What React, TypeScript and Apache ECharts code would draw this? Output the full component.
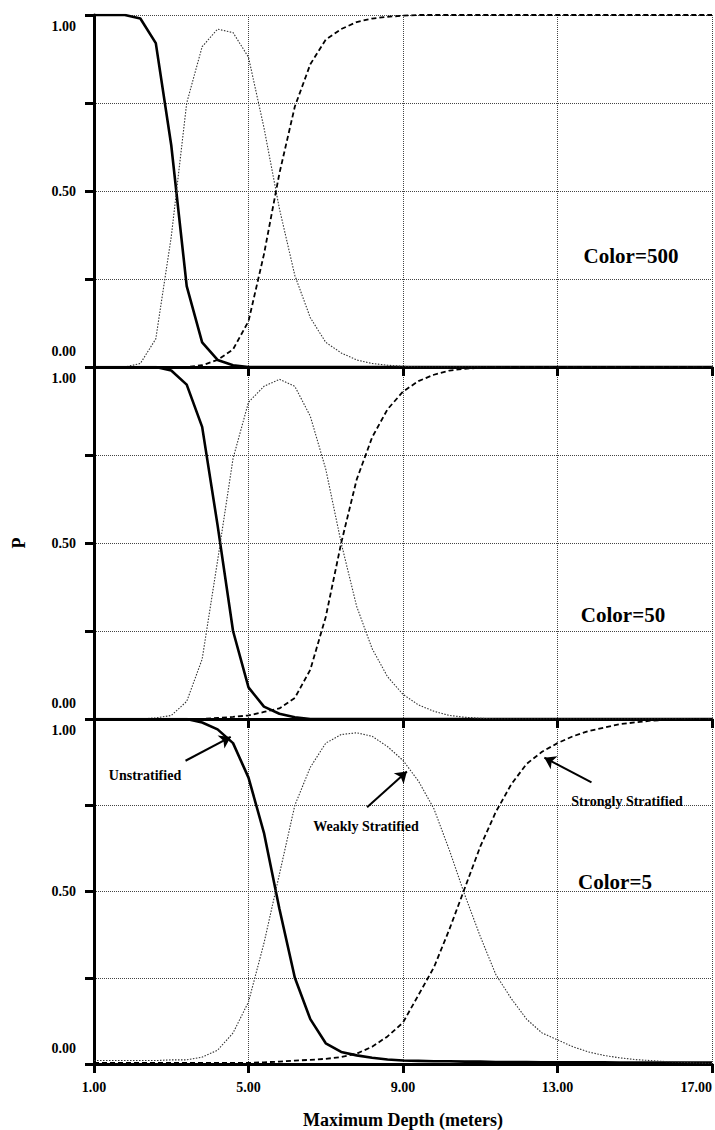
import React, { useEffect, useRef } from "react";
import * as echarts from "echarts";

// Maximum depth (meters) at which probabilities were evaluated
const depth = [1.0, 1.4, 1.8, 2.2, 2.6, 3.0, 3.4, 3.8, 4.2, 4.6, 5.0, 5.4, 5.8, 6.2, 6.6, 7.0, 7.4, 7.8, 8.2, 8.6, 9.0, 9.4, 9.8, 10.2, 10.6, 11.0, 11.4, 11.8, 12.2, 12.6, 13.0, 13.4, 13.8, 14.2, 14.6, 15.0, 15.4, 15.8, 16.2, 16.6, 17.0];

// Color = 500
const unstrat500 = [1, 1, 1, 0.99, 0.92, 0.63, 0.23, 0.07, 0.02, 0.005, 0, 0, 0, 0, 0, 0, 0, 0, 0, 0, 0, 0, 0, 0, 0, 0, 0, 0, 0, 0, 0, 0, 0, 0, 0, 0, 0, 0, 0, 0, 0];
const weakly500 = [0, 0, 0, 0.01, 0.08, 0.37, 0.75, 0.91, 0.96, 0.95, 0.88, 0.68, 0.45, 0.26, 0.14, 0.07, 0.04, 0.02, 0.01, 0.005, 0.002, 0, 0, 0, 0, 0, 0, 0, 0, 0, 0, 0, 0, 0, 0, 0, 0, 0, 0, 0, 0];
const strong500 = [0, 0, 0, 0, 0, 0, 0, 0.005, 0.02, 0.05, 0.13, 0.32, 0.55, 0.74, 0.86, 0.93, 0.96, 0.98, 0.99, 0.995, 0.998, 1, 1, 1, 1, 1, 1, 1, 1, 1, 1, 1, 1, 1, 1, 1, 1, 1, 1, 1, 1];

// Color = 50
const unstrat50 = [1, 1, 1, 1, 1, 0.99, 0.95, 0.83, 0.55, 0.25, 0.09, 0.035, 0.015, 0.005, 0, 0, 0, 0, 0, 0, 0, 0, 0, 0, 0, 0, 0, 0, 0, 0, 0, 0, 0, 0, 0, 0, 0, 0, 0, 0, 0];
const weakly50 = [0, 0, 0, 0, 0.003, 0.01, 0.05, 0.17, 0.45, 0.74, 0.9, 0.945, 0.965, 0.945, 0.86, 0.71, 0.5, 0.32, 0.2, 0.12, 0.07, 0.04, 0.022, 0.01, 0.005, 0.002, 0, 0, 0, 0, 0, 0, 0, 0, 0, 0, 0, 0, 0, 0, 0];
const strong50 = [0, 0, 0, 0, 0, 0, 0, 0, 0.003, 0.006, 0.01, 0.02, 0.03, 0.06, 0.14, 0.29, 0.5, 0.68, 0.8, 0.88, 0.93, 0.96, 0.978, 0.99, 0.995, 0.998, 1, 1, 1, 1, 1, 1, 1, 1, 1, 1, 1, 1, 1, 1, 1];

// Color = 5
const unstrat5 = [1, 1, 1, 1, 1, 1, 1, 0.99, 0.97, 0.93, 0.83, 0.67, 0.45, 0.25, 0.13, 0.06, 0.035, 0.025, 0.018, 0.013, 0.01, 0.009, 0.008, 0.008, 0.007, 0.007, 0.006, 0.006, 0.006, 0.005, 0.005, 0.005, 0.005, 0.005, 0.004, 0.004, 0.004, 0.004, 0.004, 0.004, 0.004];
const weakly5 = [0.01, 0.01, 0.01, 0.01, 0.01, 0.012, 0.012, 0.02, 0.04, 0.09, 0.18, 0.35, 0.55, 0.75, 0.86, 0.93, 0.955, 0.96, 0.95, 0.92, 0.88, 0.82, 0.74, 0.62, 0.49, 0.37, 0.26, 0.19, 0.13, 0.09, 0.07, 0.05, 0.035, 0.025, 0.018, 0.013, 0.01, 0.007, 0.005, 0.003, 0.002];
const strong5 = [0.003, 0.003, 0.003, 0.003, 0.003, 0.003, 0.003, 0.003, 0.003, 0.003, 0.003, 0.005, 0.007, 0.01, 0.012, 0.015, 0.02, 0.03, 0.05, 0.08, 0.12, 0.2, 0.28, 0.39, 0.51, 0.63, 0.73, 0.81, 0.87, 0.905, 0.93, 0.95, 0.965, 0.975, 0.985, 0.99, 0.995, 0.997, 0.998, 0.999, 1.0];

const panelLabels = ["Color=500", "Color=50", "Color=5"];
const classNames = ["Unstratified", "Weakly Stratified", "Strongly Stratified"];

// arrows in the Color=5 panel: [tail, tip] in data coordinates
const arrowUnstrat = [[3.37, 0.879], [4.54, 0.948]];
const arrowWeakly = [[8.07, 0.744], [9.1, 0.848]];
const arrowStrong = [[13.88, 0.816], [12.66, 0.888]];

const FONT = '"Liberation Serif", "Times New Roman", serif';

export default function App() {
  const ref = useRef<HTMLDivElement>(null);
  useEffect(() => {
    const chart = echarts.init(ref.current!, null, { renderer: "svg" });
    const panels = [
      [unstrat500, weakly500, strong500],
      [unstrat50, weakly50, strong50],
      [unstrat5, weakly5, strong5],
    ];
    const gridTops = [15, 367, 719];
    const gridHeights = [352, 352, 348];
    const grids = gridTops.map((t, i) => ({ left: 94, width: 618, top: t, height: gridHeights[i] }));
    const splitStyle = { show: true, lineStyle: { type: "dotted" as const, color: "#444", width: 1 } };
    const xAxes = grids.map((_, i) => ({
      type: "value",
      gridIndex: i,
      min: 1,
      max: 17,
      interval: 4,
      axisLine: { show: true, onZero: false, lineStyle: { color: "#000", width: 3 } },
      axisTick: { show: true, length: 9, lineStyle: { color: "#000", width: 3 } },
      axisLabel: {
        show: i === 2,
        formatter: (v: number) => v.toFixed(2),
        fontFamily: FONT,
        fontWeight: "bold",
        fontSize: 14,
        color: "#000",
        margin: 16,
        alignMaxLabel: "right",
      },
      splitLine: splitStyle,
      name: i === 2 ? "Maximum Depth (meters)" : "",
      nameLocation: "middle",
      nameGap: 47,
      nameTextStyle: { fontFamily: FONT, fontWeight: "bold", fontSize: 18, color: "#000" },
    }));
    const yAxes = grids.map((_, i) => ({
      type: "value",
      gridIndex: i,
      min: 0,
      max: 1,
      interval: 0.25,
      axisLine: { show: true, lineStyle: { color: "#000", width: 3 } },
      axisTick: { show: true, length: 9, lineStyle: { color: "#000", width: 3 } },
      axisLabel: {
        margin: 18,
        color: "#000",
        formatter: (v: number) => {
          if (v === 1) return "{t|1.00}";
          if (v === 0) return "{b|0.00}";
          if (v === 0.5) return "{m|0.50}";
          return "";
        },
        rich: {
          t: { fontFamily: FONT, fontWeight: "bold", fontSize: 14, color: "#000", padding: [22, 0, 0, 0] },
          b: { fontFamily: FONT, fontWeight: "bold", fontSize: 14, color: "#000", padding: [0, 0, 32, 0] },
          m: { fontFamily: FONT, fontWeight: "bold", fontSize: 14, color: "#000" },
        },
      },
      splitLine: splitStyle,
      name: i === 1 ? "P" : "",
      nameLocation: "middle",
      nameGap: 66,
      nameTextStyle: { fontFamily: FONT, fontWeight: "bold", fontSize: 18, color: "#000" },
    }));
    const lineStyles = [
      { color: "#000", width: 2.6, type: "solid" },
      { color: "#333", width: 1.1, type: [1.5, 1.5] },
      { color: "#000", width: 1.8, type: [5, 3] },
    ];
    const series: any[] = [];
    panels.forEach((arrs, gi) => {
      arrs.forEach((arr, si) => {
        const s: any = {
          type: "line",
          name: classNames[si],
          xAxisIndex: gi,
          yAxisIndex: gi,
          data: depth.map((d, k) => [d, arr[k]]),
          showSymbol: false,
          symbol: "none",
          lineStyle: lineStyles[si],
          z: 3,
        };
        if (gi === 2 && si === 0) {
          s.markLine = {
            silent: true,
            symbol: ["none", "arrow"],
            symbolSize: 11,
            label: { show: false },
            lineStyle: { color: "#000", width: 2, type: "solid" },
            data: [arrowUnstrat, arrowWeakly, arrowStrong].map((a) => [
              { coord: a[0] },
              { coord: a[1] },
            ]),
          };
        }
        series.push(s);
      });
    });
    const txt = (text: string, x: number, y: number, size: number) => ({
      type: "text",
      x,
      y,
      z: 10,
      style: {
        text,
        fill: "#000",
        font: `bold ${size}px ${FONT}`,
        align: "center",
        verticalAlign: "middle",
      },
    });
    chart.setOption({
      animation: false,
      backgroundColor: "#fff",
      grid: grids,
      xAxis: xAxes,
      yAxis: yAxes,
      series,
      graphic: [
        txt(panelLabels[0], 631, 256, 21),
        txt(panelLabels[1], 623, 615, 21),
        txt(panelLabels[2], 615, 882, 21),
        txt(classNames[0], 145, 775, 14),
        txt(classNames[1], 366, 826, 14),
        txt(classNames[2], 627, 801, 14),
      ],
    });
    return () => chart.dispose();
  }, []);
  return (
    <div
      ref={ref}
      style={{ position: "absolute", left: 0, top: 0, width: 715, height: 1130, background: "#fff" }}
    />
  );
}
